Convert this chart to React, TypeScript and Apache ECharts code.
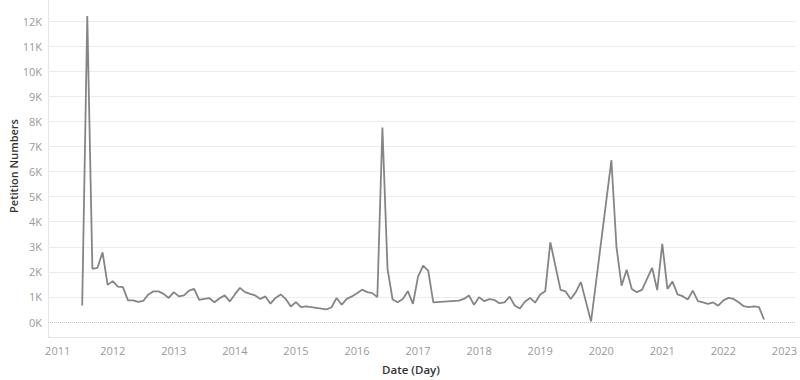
import React, { useEffect, useRef } from "react";
import * as echarts from "echarts";

const months: string[] = [
  "2011-07", "2011-08", "2011-09", "2011-10", "2011-11", "2011-12",
  "2012-01", "2012-02", "2012-03", "2012-04", "2012-05", "2012-06", "2012-07", "2012-08", "2012-09", "2012-10", "2012-11", "2012-12",
  "2013-01", "2013-02", "2013-03", "2013-04", "2013-05", "2013-06", "2013-07", "2013-08", "2013-09", "2013-10", "2013-11", "2013-12",
  "2014-01", "2014-02", "2014-03", "2014-04", "2014-05", "2014-06", "2014-07", "2014-08", "2014-09", "2014-10", "2014-11", "2014-12",
  "2015-01", "2015-02", "2015-03", "2015-07", "2015-08", "2015-09", "2015-10", "2015-11", "2015-12",
  "2016-01", "2016-02", "2016-03", "2016-04", "2016-05", "2016-06", "2016-07", "2016-08", "2016-09", "2016-10", "2016-11", "2016-12",
  "2017-01", "2017-02", "2017-03", "2017-04", "2017-09", "2017-10", "2017-11", "2017-12",
  "2018-01", "2018-02", "2018-03", "2018-04", "2018-05", "2018-06", "2018-07", "2018-08", "2018-09", "2018-10", "2018-11", "2018-12",
  "2019-01", "2019-02", "2019-03", "2019-05", "2019-06", "2019-07", "2019-08", "2019-09", "2019-11",
  "2020-03", "2020-04", "2020-05", "2020-06", "2020-07", "2020-08", "2020-09", "2020-10", "2020-11", "2020-12",
  "2021-01", "2021-02", "2021-03", "2021-04", "2021-05", "2021-06", "2021-07", "2021-08", "2021-09", "2021-10", "2021-11", "2021-12",
  "2022-01", "2022-02", "2022-03", "2022-04", "2022-05", "2022-06", "2022-07", "2022-08", "2022-09",
];

const petitions: number[] = [
  660, 12200, 2120, 2160, 2780, 1480,
  1630, 1410, 1390, 860, 860, 800, 840, 1100, 1220, 1220, 1120, 960,
  1190, 1020, 1060, 1250, 1320, 880, 920, 950, 790, 950, 1060, 820,
  1100, 1360, 1190, 1120, 1060, 920, 1020, 730, 960, 1100, 920, 620,
  790, 590, 620, 500, 590, 960, 690, 920, 1020,
  1150, 1290, 1190, 1150, 990, 7750, 2120, 900, 790, 920, 1230, 720,
  1810, 2250, 2050, 780, 850, 920, 1060, 690,
  990, 830, 910, 880, 750, 780, 1010, 660, 540, 810, 960, 770,
  1100, 1230, 3180, 1280, 1220, 920, 1190, 1590, 20,
  6450, 2980, 1450, 2080, 1320, 1190, 1280, 1720, 2160, 1270,
  3120, 1320, 1610, 1100, 1030, 900, 1250, 830, 780, 720, 780, 650,
  860, 960, 920, 790, 630, 590, 620, 590, 100,
];

const yearTicks: number[] = [2011, 2012, 2013, 2014, 2015, 2016, 2017, 2018, 2019, 2020, 2021, 2022, 2023];
const yTicks: number[] = [0, 1000, 2000, 3000, 4000, 5000, 6000, 7000, 8000, 9000, 10000, 11000, 12000];

// month string -> fractional year (month start)
const toYear = (ym: string) => {
  const [y, m] = ym.split("-").map(Number);
  return y + (m - 1) / 12;
};

const FONT = "'Open Sans', 'Noto Sans', sans-serif";

export default function App() {
  const ref = useRef<HTMLDivElement>(null);
  useEffect(() => {
    if (!ref.current) return;
    const chart = echarts.init(ref.current, undefined, { renderer: "svg" });
    const data = months.map((m, i) => [toYear(m), petitions[i]]);
    const labelStyle = { color: "#9a9a9a", fontSize: 11, fontFamily: FONT };
    chart.setOption({
      animation: false,
      backgroundColor: "#ffffff",
      grid: { left: 48, right: 3, top: 21, bottom: 58, containLabel: false },
      xAxis: {
        type: "value",
        min: 2010.94,
        max: 2023.178,
        axisLine: { show: false },
        axisTick: { show: false },
        splitLine: { show: false },
        axisLabel: {
          customValues: yearTicks,
          formatter: (v: number) => {
            const y = Math.round(v);
            return y === yearTicks[0] ? `{first|${y}}` : String(y);
          },
          rich: { first: { ...labelStyle, padding: [0, 0, 0, 12] } },
          ...labelStyle,
          margin: 23,
        },
      },
      yAxis: {
        type: "value",
        min: 0,
        max: 12000,
        interval: 1000,
        axisLine: { show: false },
        axisTick: { show: false },
        splitLine: { show: true, showMinLine: false, lineStyle: { color: "#ececec", width: 1 } },
        axisLabel: {
          customValues: yTicks,
          formatter: (v: number) => `${Math.round(v / 1000)}K`,
          ...labelStyle,
          margin: 6,
        },
      },
      graphic: [
        { type: "line", silent: true, shape: { x1: 48.5, y1: 0, x2: 48.5, y2: 337 }, style: { stroke: "#e6e6e6", lineWidth: 1 } },
        { type: "line", silent: true, shape: { x1: 48, y1: 337.5, x2: 800, y2: 337.5 }, style: { stroke: "#e6e6e6", lineWidth: 1 } },
        {
          type: "text",
          x: 13,
          y: 166,
          rotation: Math.PI / 2,
          style: {
            text: "Petition Numbers",
            fill: "#333333",
            font: `600 11px ${FONT}`,
            align: "center",
            verticalAlign: "middle",
          },
        },
        {
          type: "text",
          x: 411,
          y: 369,
          style: {
            text: "Date (Day)",
            fill: "#333333",
            font: `600 11.5px ${FONT}`,
            align: "center",
            verticalAlign: "middle",
          },
        },
      ],
      series: [
        {
          type: "line",
          data,
          showSymbol: false,
          clip: false,
          lineStyle: { color: "#858585", width: 1.8 },
          itemStyle: { color: "#858585" },
          markLine: {
            silent: true,
            symbol: ["none", "none"],
            label: { show: false },
            lineStyle: { type: "dotted", color: "#c4c4c4", width: 1 },
            data: [{ yAxis: 0 }],
          },
        },
      ],
    });
    return () => chart.dispose();
  }, []);
  return <div ref={ref} style={{ position: "fixed", left: 0, top: 0, width: 800, height: 380 }} />;
}
